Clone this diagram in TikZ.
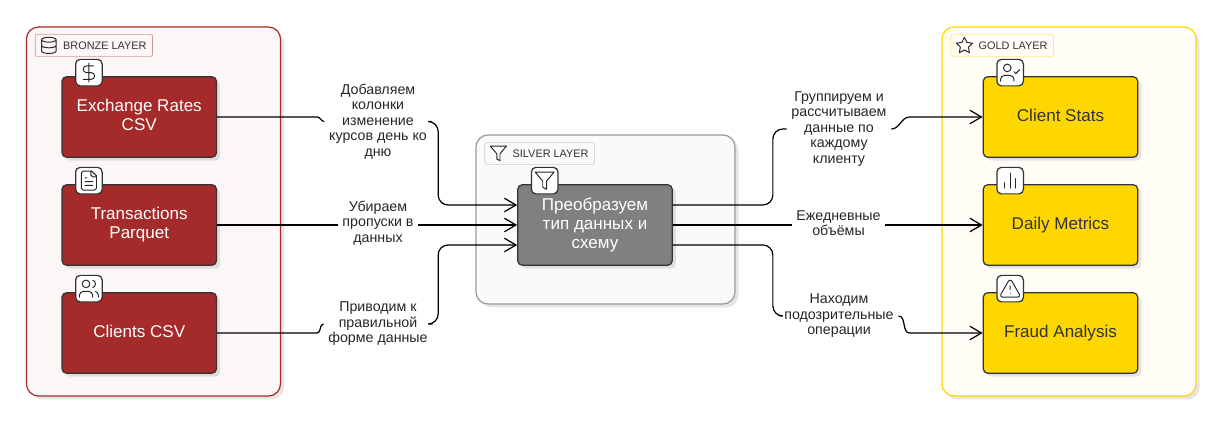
\documentclass[tikz,border=0pt]{standalone}
\usepackage{fontspec}
\setmainfont{Liberation Sans}
\usetikzlibrary{arrows.meta, positioning, calc, shadows}
\definecolor{bronzered}{RGB}{165,42,42}
\definecolor{bronzebg}{RGB}{252,247,247}
\definecolor{silvergrey}{RGB}{128,128,128}
\definecolor{silverline}{RGB}{153,153,153}
\definecolor{silverbg}{RGB}{250,250,250}
\definecolor{goldyellow}{RGB}{255,215,0}
\definecolor{goldbg}{RGB}{255,253,246}
\definecolor{inkdark}{RGB}{51,51,51}
\tikzset{
  softshadow/.style={drop shadow={shadow xshift=.07cm, shadow yshift=-.07cm, fill=black, opacity=.1}},
  iconline/.style={x=.019cm, y=-.019cm, shift={(-.228cm,.228cm)}, draw=black!85, line width=.55pt,
                   line cap=round, line join=round},
  dollaricon/.pic={\draw[iconline] (12,2) -- (12,22)
      (17,5) -- (9.5,5) .. controls (7.6,5) and (6,6.5) .. (6,8.5) .. controls (6,10.5) and (7.6,12) .. (9.5,12)
      -- (14.5,12) .. controls (16.4,12) and (18,13.5) .. (18,15.5) .. controls (18,17.5) and (16.4,19) .. (14.5,19) -- (6,19);},
  fileicon/.pic={\draw[iconline] (15,2) -- (6,2) .. controls (4.9,2) and (4,2.9) .. (4,4) -- (4,20)
      .. controls (4,21.1) and (4.9,22) .. (6,22) -- (18,22) .. controls (19.1,22) and (20,21.1) .. (20,20) -- (20,7) -- cycle
      (14,2) -- (14,6) .. controls (14,7.1) and (14.9,8) .. (16,8) -- (20,8)
      (10,9) -- (8,9) (16,13) -- (8,13) (16,17) -- (8,17);},
  usersicon/.pic={\draw[iconline] (16,21) -- (16,19) .. controls (16,16.8) and (14.2,15) .. (12,15) -- (6,15)
      .. controls (3.8,15) and (2,16.8) .. (2,19) -- (2,21)
      (9,7) circle [radius=4]
      (22,21) -- (22,19) .. controls (22,17.2) and (20.8,15.6) .. (19,15.13)
      (16,3.13) .. controls (17.8,3.6) and (19,5.2) .. (19,7) .. controls (19,8.8) and (17.8,10.4) .. (16,10.88);},
  funnelicon/.pic={\draw[iconline] (22,3) -- (2,3) -- (10,12.46) -- (10,19) -- (14,21) -- (14,12.46) -- cycle;},
  dbicon/.pic={\draw[iconline] (12,5) ellipse [x radius=9, y radius=3]
      (3,5) -- (3,19) .. controls (3,20.66) and (7,22) .. (12,22) .. controls (17,22) and (21,20.66) .. (21,19) -- (21,5)
      (3,12) .. controls (3,13.66) and (7,15) .. (12,15) .. controls (17,15) and (21,13.66) .. (21,12);},
  staricon/.pic={\draw[iconline] (12,2) -- (15.09,8.26) -- (22,9.27) -- (17,14.14) -- (18.18,21.02) -- (12,17.77)
      -- (5.82,21.02) -- (7,14.14) -- (2,9.27) -- (8.91,8.26) -- cycle;},
  usercheckicon/.pic={\draw[iconline] (16,21) -- (16,19) .. controls (16,16.8) and (14.2,15) .. (12,15) -- (6,15)
      .. controls (3.8,15) and (2,16.8) .. (2,19) -- (2,21)
      (9,7) circle [radius=4]
      (16,11) -- (18,13) -- (22,9);},
  charticon/.pic={\draw[iconline] (18,20) -- (18,10) (12,20) -- (12,4) (6,20) -- (6,14);},
  warnicon/.pic={\draw[iconline] (21.73,18) -- (13.73,4) .. controls (13,2.7) and (11,2.7) .. (10.25,4) -- (2.25,18)
      .. controls (1.5,19.3) and (2.5,21) .. (4,21) -- (20,21) .. controls (21.5,21) and (22.5,19.3) .. (21.73,18) -- cycle
      (12,9) -- (12,13) (12,17) -- (12.01,17);}
}
\begin{document}
\begin{tikzpicture}[
    layer/.style={rounded corners=.24cm, line width=.7pt, minimum width=5.08cm, minimum height=7.38cm, softshadow},
    legend/.style={rounded corners=.04cm, line width=.35pt, anchor=west, inner xsep=.12cm, inner ysep=0pt,
                   minimum height=.44cm, text=inkdark, font=\fontsize{6.2}{7}\selectfont},
    block/.style={draw=inkdark, rounded corners=.09cm, line width=.7pt, minimum width=3.09cm, minimum height=1.61cm,
                  align=center, text depth=.08cm, font=\fontsize{9.7}{10.9}\selectfont, softshadow},
    bronzeblock/.style={block, fill=bronzered, text=white},
    goldblock/.style={block, fill=goldyellow, text=inkdark},
    tab/.style={draw=inkdark, fill=white, rounded corners=.09cm, line width=.7pt, minimum size=.53cm, inner sep=0pt},
    edgelabel/.style={align=center, inner xsep=.09cm, inner ysep=0pt, text=black!85, font=\fontsize{8.1}{8.8}\selectfont},
    flow/.style={line width=.7pt, black},
    arr/.style={flow, -{Straight Barb[length=2.3mm, width=2.7mm]}}
  ]
  \useasboundingbox (0,0) rectangle (24.36,8.46);
  % layers
  \node[layer, draw=bronzered, fill=bronzebg] (bronze) at (3.07,4.23) {};
  \node[layer, draw=silverline, fill=silverbg, minimum width=5.18cm, minimum height=3.38cm] (silver) at (12.11,4.07) {};
  \node[layer, draw=goldyellow, fill=goldbg] (gold) at (21.38,4.23) {};
  \node[legend, draw=bronzered!50, fill=bronzebg] (bronzelegend) at ([xshift=.18cm,yshift=-.38cm]bronze.north west) {\hspace*{.44cm}BRONZE LAYER};
  \node[legend, draw=black!20, fill=silverbg] (silverlegend) at ([xshift=.18cm,yshift=-.38cm]silver.north west) {\hspace*{.44cm}SILVER LAYER};
  \node[legend, draw=goldyellow!50, fill=goldbg] (goldlegend) at ([xshift=.18cm,yshift=-.38cm]gold.north west) {\hspace*{.44cm}GOLD LAYER};
  \pic[scale=.85] at ([xshift=.28cm]bronzelegend.west) {dbicon};
  \pic[scale=.85] at ([xshift=.28cm]silverlegend.west) {funnelicon};
  \pic[scale=.85] at ([xshift=.28cm]goldlegend.west) {staricon};
  % blocks
  \node[bronzeblock] (rates) at (2.785,6.12) {Exchange Rates\\CSV};
  \node[bronzeblock] (trans) at (2.785,3.96) {Transactions\\Parquet};
  \node[bronzeblock] (clients) at (2.785,1.80) {Clients CSV};
  \node[block, fill=silvergrey, text=white] (schema) at (11.9,3.96) {Преобразуем\\тип данных и\\схему};
  \node[goldblock] (stats) at (21.21,6.12) {Client Stats};
  \node[goldblock] (daily) at (21.21,3.96) {Daily Metrics};
  \node[goldblock] (fraud) at (21.21,1.80) {Fraud Analysis};
  % icon tabs
  \node[tab] (tabrates) at ([xshift=.55cm,yshift=.07cm]rates.north west) {};
  \node[tab] (tabtrans) at ([xshift=.55cm,yshift=.07cm]trans.north west) {};
  \node[tab] (tabclients) at ([xshift=.55cm,yshift=.07cm]clients.north west) {};
  \node[tab] (tabschema) at ([xshift=.55cm,yshift=.07cm]schema.north west) {};
  \node[tab] (tabstats) at ([xshift=.55cm,yshift=.07cm]stats.north west) {};
  \node[tab] (tabdaily) at ([xshift=.55cm,yshift=.07cm]daily.north west) {};
  \node[tab] (tabfraud) at ([xshift=.55cm,yshift=.07cm]fraud.north west) {};
  \pic at (tabrates) {dollaricon};
  \pic at (tabtrans) {fileicon};
  \pic at (tabclients) {usersicon};
  \pic at (tabschema) {funnelicon};
  \pic at (tabstats) {usercheckicon};
  \pic at (tabdaily) {charticon};
  \pic at (tabfraud) {warnicon};
  % edge labels
  \node[edgelabel] (lblrates) at (7.56,6.03) {Добавляем\\колонки\\изменение\\курсов день ко\\дню};
  \node[edgelabel] (lblnulls) at (7.56,4.0) {Убираем\\пропуски в\\данных};
  \node[edgelabel] (lblclients) at (7.56,1.98) {Приводим к\\правильной\\форме данные};
  \node[edgelabel] (lblgroup) at (16.78,5.88) {Группируем и\\рассчитываем\\данные по\\каждому\\клиенту};
  \node[edgelabel] (lbldaily) at (16.77,4.0) {Ежедневные\\объёмы};
  \node[edgelabel] (lblfraud) at (16.78,2.14) {Находим\\подозрительные\\операции};
  % connectors into silver
  \draw[flow] (rates.east) -- ++(2,0) to[out=0,in=180] (lblrates.west);
  \draw[arr, rounded corners=.2cm] (lblrates.east) -| ([xshift=-1.58cm,yshift=.4cm]schema.west) -- ([yshift=.4cm]schema.west);
  \draw[flow] (trans.east) -- (trans.east -| lblnulls.west);
  \draw[arr] (lblnulls.east |- schema.west) -- (schema.west);
  \draw[flow] (clients.east) -- ++(2,0) to[out=0,in=180] (lblclients.west);
  \draw[arr, rounded corners=.2cm] (lblclients.east) -| ([xshift=-1.58cm,yshift=-.4cm]schema.west) -- ([yshift=-.4cm]schema.west);
  % connectors into gold
  \draw[flow, rounded corners=.2cm] ([yshift=.4cm]schema.east) -- ++(2,0) |- (lblgroup.west);
  \draw[arr] (lblgroup.east) to[out=0,in=180] ([xshift=-1.46cm]stats.west) -- (stats.west);
  \draw[flow] (schema.east) -- (schema.east -| lbldaily.west);
  \draw[arr] (lbldaily.east |- daily.west) -- (daily.west);
  \draw[flow, rounded corners=.2cm] ([yshift=-.4cm]schema.east) -- ++(2,0) |- (lblfraud.west);
  \draw[arr] (lblfraud.east) to[out=0,in=180] ([xshift=-1.46cm]fraud.west) -- (fraud.west);
\end{tikzpicture}
\end{document}
